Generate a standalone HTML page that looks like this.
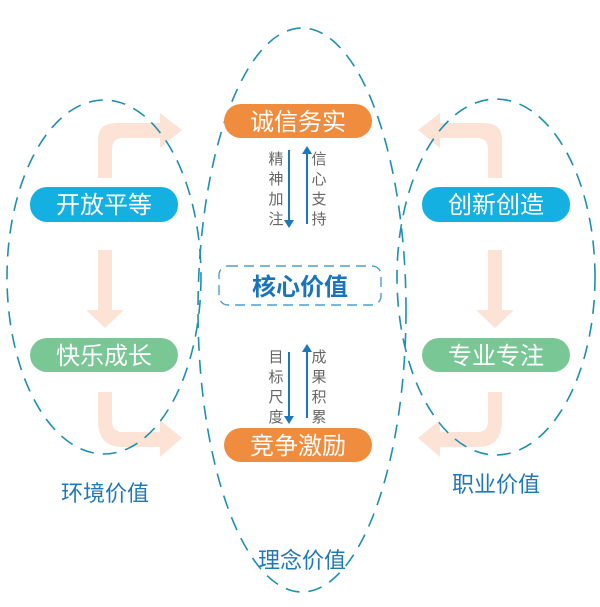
<!DOCTYPE html>
<html><head><meta charset="utf-8"><style>
html,body{margin:0;padding:0;background:#fff;width:600px;height:607px;overflow:hidden}
svg text{font-family:"Liberation Sans","Noto Sans CJK SC",sans-serif}
</style></head><body>
<svg width="600" height="607" viewBox="0 0 600 607" xmlns="http://www.w3.org/2000/svg">
<defs>
<g id="arrowTop">
 <path d="M98 178 V140 Q98 123 116 123 H160 V113 L182 130 L160 148 V138 H122 Q112 138 112 150 V178 Z" fill="#fde3d5"/>
</g>
<g id="arrowBot">
 <path d="M98 392 V420 Q98 447 122 447 H160 V457 L182 438 L160 420 V432 H122 Q112 432 112 420 V392 Z" fill="#fde3d5"/>
</g>
<g id="arrowDown">
 <path d="M98 250 H112 V310 H124 L105 328 L86 310 H98 Z" fill="#fde3d5"/>
</g>
</defs>
<use href="#arrowTop"/><use href="#arrowBot"/><use href="#arrowDown"/>
<g transform="translate(600,0) scale(-1,1)"><use href="#arrowTop"/><use href="#arrowBot"/><use href="#arrowDown"/></g>

<g fill="none" stroke="#1d8fb0" stroke-width="1.6" stroke-dasharray="14,9">
<ellipse cx="104" cy="277" rx="97" ry="177"/>
<ellipse cx="496" cy="277" rx="99" ry="178"/>
<ellipse cx="302" cy="310" rx="104" ry="282"/>
</g>

<g font-size="24" fill="#fff" text-anchor="middle">
<rect x="224" y="104" width="148" height="34" rx="17" fill="#f08c3e"/>
<text x="298" y="130" fill="#fff">诚信务实</text>
<rect x="224" y="428" width="148" height="34" rx="17" fill="#f08c3e"/>
<text x="298" y="454" fill="#fff">竞争激励</text>
<rect x="30" y="187" width="148" height="35" rx="17" fill="#15b0e2"/>
<text x="104" y="213" fill="#fff">开放平等</text>
<rect x="30" y="338" width="148" height="34" rx="17" fill="#7ac796"/>
<text x="104" y="364" fill="#fff">快乐成长</text>
<rect x="422" y="187" width="148" height="35" rx="17" fill="#15b0e2"/>
<text x="496" y="213" fill="#fff">创新创造</text>
<rect x="422" y="338" width="148" height="34" rx="17" fill="#7ac796"/>
<text x="496" y="364" fill="#fff">专业专注</text>
</g>

<rect x="219" y="266" width="162" height="39" rx="9" fill="none" stroke="#4a9fd0" stroke-width="1.4" stroke-dasharray="10,6"/>
<text x="300" y="295" font-size="24" font-weight="bold" fill="#1a74bb" text-anchor="middle">核心价值</text>

<g stroke="#1a78bb" stroke-width="2" fill="#1a78bb">
<line x1="289" y1="150" x2="289" y2="222"/><path d="M284 220 L294 220 L289 228 Z" stroke="none"/>
<line x1="307" y1="224" x2="307" y2="152"/><path d="M302 154 L312 154 L307 146 Z" stroke="none"/>
<line x1="289" y1="352" x2="289" y2="418"/><path d="M284 416 L294 416 L289 424 Z" stroke="none"/>
<line x1="307" y1="418" x2="307" y2="350"/><path d="M302 352 L312 352 L307 344 Z" stroke="none"/>
</g>
<g font-size="15" fill="#666" text-anchor="middle">
<text x="276" y="164">精</text><text x="276" y="184">神</text><text x="276" y="204">加</text><text x="276" y="224">注</text>
<text x="319" y="164">信</text><text x="319" y="184">心</text><text x="319" y="204">支</text><text x="319" y="224">持</text>
<text x="276" y="362">目</text><text x="276" y="382">标</text><text x="276" y="402">尺</text><text x="276" y="422">度</text>
<text x="319" y="362">成</text><text x="319" y="382">果</text><text x="319" y="402">积</text><text x="319" y="422">累</text>
</g>

<g font-size="22" fill="#1f78b8" text-anchor="middle">
<text x="105" y="501">环境价值</text>
<text x="496" y="492">职业价值</text>
<text x="302" y="568">理念价值</text>
</g>
</svg>
</body></html>
